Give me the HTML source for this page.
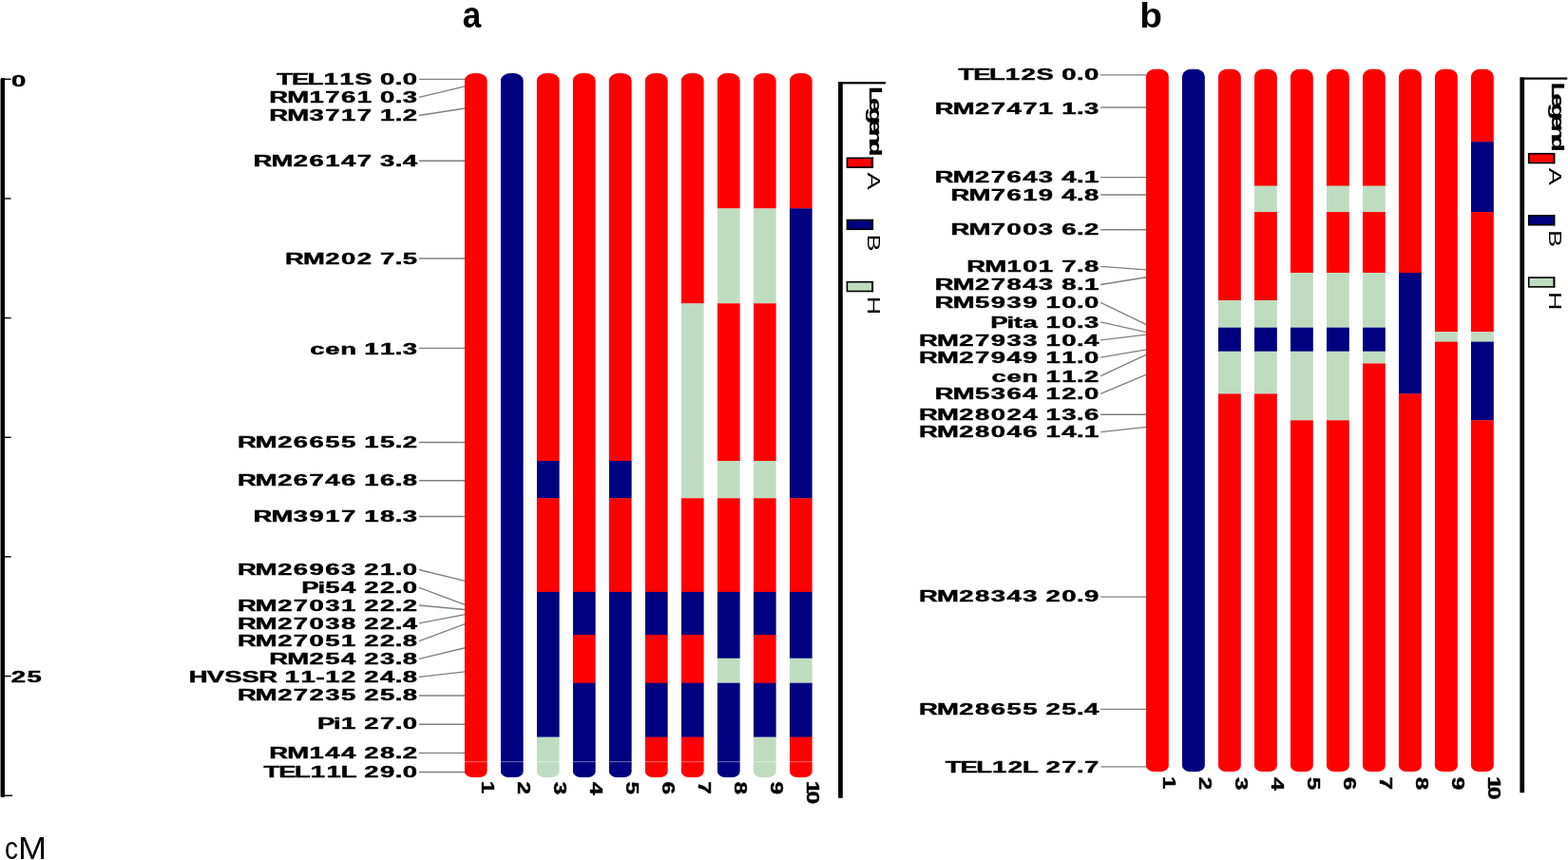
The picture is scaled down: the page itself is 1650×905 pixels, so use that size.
<!DOCTYPE html>
<html lang="en">
<head>
<meta charset="utf-8">
<title>Graphical genotypes</title>
<style>
html,body{margin:0;padding:0;background:#fff;}
body{width:1650px;height:905px;overflow:hidden;}
svg{display:block;}
text{font-family:"Liberation Sans",Arial,Helvetica,sans-serif;fill:#000;}
.lb{font-size:15.9px;font-weight:bold;stroke:#000;stroke-width:0.6;vector-effect:non-scaling-stroke;paint-order:stroke;}
.nm{font-weight:bold;stroke:#000;stroke-width:0.5;vector-effect:non-scaling-stroke;}
.lg{font-weight:bold;stroke:#000;stroke-width:0.35;vector-effect:non-scaling-stroke;}
.li{}
body{position:relative;}
.cm{position:absolute;left:0;top:873.3px;height:40px;line-height:40px;font-size:32.4px;font-family:"Liberation Sans",Arial,Helvetica,sans-serif;color:#000;white-space:nowrap;}
.cm span{position:absolute;top:0;display:block;transform-origin:0 0;}
.tt{font-size:40px;font-weight:bold;}
.ld{stroke:#808080;stroke-width:1.35;}
</style>
</head>
<body>
<svg width="1650" height="905" viewBox="0 0 1650 905">
<rect width="1650" height="905" fill="#fff"/>
<rect x="0.8" y="82" width="4.3" height="757" rx="1" fill="#000"/>
<rect x="0" y="83" width="1" height="755" fill="#888"/>
<rect x="3" y="82.6" width="8.6" height="1.4" fill="#000"/>
<rect x="3" y="208.25" width="8.6" height="1.4" fill="#000"/>
<rect x="3" y="333.9" width="8.6" height="1.4" fill="#000"/>
<rect x="3" y="459.55" width="8.6" height="1.4" fill="#000"/>
<rect x="3" y="585.2" width="8.6" height="1.4" fill="#000"/>
<rect x="3" y="710.85" width="8.6" height="1.4" fill="#000"/>
<rect x="3" y="836.5" width="10" height="1.4" fill="#000"/>
<text class="lb" transform="translate(0,90.75) scale(1.7296,1)" x="6.95">0</text>
<text class="lb" transform="translate(0,718.15) scale(1.7296,1)" x="6.85 16.51">25</text>
<text class="tt" style="font-size:39.4px" transform="translate(486.7,28.8) scale(0.89,1)">a</text>
<text class="tt" style="font-size:37.7px" transform="translate(1199.3,28.6) scale(1.03,1)">b</text>
<line x1="441" y1="83.3" x2="489.3" y2="83.3" class="ld"/>
<line x1="441" y1="102.3" x2="489.3" y2="90.84" class="ld"/>
<line x1="441" y1="121.5" x2="489.3" y2="114" class="ld"/>
<line x1="441" y1="169.2" x2="489.3" y2="169.2" class="ld"/>
<line x1="441" y1="272" x2="489.3" y2="272" class="ld"/>
<line x1="441" y1="366.3" x2="489.3" y2="366.3" class="ld"/>
<line x1="441" y1="465.5" x2="489.3" y2="465.5" class="ld"/>
<line x1="441" y1="505.73" x2="489.3" y2="505.73" class="ld"/>
<line x1="441" y1="543.45" x2="489.3" y2="543.45" class="ld"/>
<line x1="441" y1="599.5" x2="489.3" y2="611.34" class="ld"/>
<line x1="441" y1="618.3" x2="489.3" y2="636.49" class="ld"/>
<line x1="441" y1="637" x2="489.3" y2="641.52" class="ld"/>
<line x1="441" y1="655.9" x2="489.3" y2="646.54" class="ld"/>
<line x1="441" y1="674.6" x2="489.3" y2="656.6" class="ld"/>
<line x1="441" y1="693.4" x2="489.3" y2="681.75" class="ld"/>
<line x1="441" y1="712.3" x2="489.3" y2="706.89" class="ld"/>
<line x1="441" y1="732.04" x2="489.3" y2="732.04" class="ld"/>
<line x1="441" y1="762.21" x2="489.3" y2="762.21" class="ld"/>
<line x1="441" y1="792.38" x2="489.3" y2="792.38" class="ld"/>
<line x1="441" y1="812.5" x2="489.3" y2="812.5" class="ld"/>
<text class="lb" transform="translate(0,89.35) scale(1.7296,1)" x="168.38 177.48 187.18 196.89 206.55 215.81 226.42 231.23 240.36 245.05">TEL11S 0.0</text>
<text class="lb" transform="translate(0,108.15) scale(1.7296,1)" x="163.80 174.74 188.22 197.87 207.53 217.18 226.42 231.23 240.36 245.05">RM1761 0.3</text>
<text class="lb" transform="translate(0,127.35) scale(1.7296,1)" x="163.80 174.74 188.22 197.87 207.53 217.18 226.42 231.23 240.36 245.05">RM3717 1.2</text>
<text class="lb" transform="translate(0,174.95) scale(1.7296,1)" x="154.14 165.09 178.56 188.22 197.87 207.53 217.18 226.42 231.23 240.36 245.05">RM26147 3.4</text>
<text class="lb" transform="translate(0,277.85) scale(1.7296,1)" x="173.45 184.40 197.87 207.53 217.18 226.42 231.23 240.36 245.05">RM202 7.5</text>
<text class="lb" transform="translate(0,372.75) scale(1.7296,1)" x="188.62 197.90 207.12 216.77 221.58 231.23 240.36 245.05">cen 11.3</text>
<text class="lb" transform="translate(0,471.25) scale(1.7296,1)" x="144.49 155.43 168.91 178.56 188.22 197.87 207.53 216.77 221.58 231.23 240.36 245.05">RM26655 15.2</text>
<text class="lb" transform="translate(0,511.45) scale(1.7296,1)" x="144.49 155.43 168.91 178.56 188.22 197.87 207.53 216.77 221.58 231.23 240.36 245.05">RM26746 16.8</text>
<text class="lb" transform="translate(0,549.45) scale(1.7296,1)" x="154.14 165.09 178.56 188.22 197.87 207.53 216.77 221.58 231.23 240.36 245.05">RM3917 18.3</text>
<text class="lb" transform="translate(0,605.35) scale(1.7296,1)" x="144.49 155.43 168.91 178.56 188.22 197.87 207.53 216.77 221.58 231.23 240.36 245.05">RM26963 21.0</text>
<text class="lb" transform="translate(0,624.15) scale(1.7296,1)" x="183.43 193.35 197.87 207.53 216.77 221.58 231.23 240.36 245.05">Pi54 22.0</text>
<text class="lb" transform="translate(0,642.85) scale(1.7296,1)" x="144.49 155.43 168.91 178.56 188.22 197.87 207.53 216.77 221.58 231.23 240.36 245.05">RM27031 22.2</text>
<text class="lb" transform="translate(0,661.75) scale(1.7296,1)" x="144.49 155.43 168.91 178.56 188.22 197.87 207.53 216.77 221.58 231.23 240.36 245.05">RM27038 22.4</text>
<text class="lb" transform="translate(0,680.45) scale(1.7296,1)" x="144.49 155.43 168.91 178.56 188.22 197.87 207.53 216.77 221.58 231.23 240.36 245.05">RM27051 22.8</text>
<text class="lb" transform="translate(0,699.25) scale(1.7296,1)" x="163.80 174.74 188.22 197.87 207.53 216.77 221.58 231.23 240.36 245.05">RM254 23.8</text>
<text class="lb" transform="translate(0,718.15) scale(1.7296,1)" x="114.94 125.96 136.54 147.18 157.44 168.55 173.36 183.01 192.22 197.87 207.53 216.77 221.58 231.23 240.36 245.05">HVSSR 11-12 24.8</text>
<text class="lb" transform="translate(0,737.25) scale(1.7296,1)" x="144.49 155.43 168.91 178.56 188.22 197.87 207.53 216.77 221.58 231.23 240.36 245.05">RM27235 25.8</text>
<text class="lb" transform="translate(0,767.35) scale(1.7296,1)" x="193.09 203.01 207.53 216.77 221.58 231.23 240.36 245.05">Pi1 27.0</text>
<text class="lb" transform="translate(0,797.65) scale(1.7296,1)" x="163.80 174.74 188.22 197.87 207.53 216.77 221.58 231.23 240.36 245.05">RM144 28.2</text>
<text class="lb" transform="translate(0,818.25) scale(1.7296,1)" x="160.46 169.56 179.25 188.97 198.62 207.47 216.77 221.58 231.23 240.36 245.05">TEL11L 29.0</text>
<clipPath id="c488_0"><path d="M488.8 811.4 V84.9 A11 8 0 0 1 499.8 76.9 H501.8 A11 8 0 0 1 512.8 84.9 V811.4 A8 6.5 0 0 1 504.8 817.9 H496.8 A8 6.5 0 0 1 488.8 811.4Z"/></clipPath>
<g clip-path="url(#c488_0)">
<rect x="488.8" y="76.9" width="24" height="741.3" fill="#ff0000"/>
<rect x="488.8" y="801.1" width="24" height="1" fill="#fff" opacity="0.42"/>
</g>
<text class="nm" style="font-size:19px" transform="translate(506.7,823.3) rotate(90) scale(1.28,1)" x="-1.20">1</text>
<clipPath id="c488_1"><path d="M526.8 811.4 V84.9 A11 8 0 0 1 537.8 76.9 H539.8 A11 8 0 0 1 550.8 84.9 V811.4 A8 6.5 0 0 1 542.8 817.9 H534.8 A8 6.5 0 0 1 526.8 811.4Z"/></clipPath>
<g clip-path="url(#c488_1)">
<rect x="526.8" y="76.9" width="24" height="741.3" fill="#000080"/>
<rect x="526.8" y="801.1" width="24" height="1" fill="#fff" opacity="0.42"/>
</g>
<text class="nm" style="font-size:19px" transform="translate(544.7,823.3) rotate(90) scale(1.28,1)" x="-0.66">2</text>
<clipPath id="c488_2"><path d="M564.8 811.4 V84.9 A11 8 0 0 1 575.8 76.9 H577.8 A11 8 0 0 1 588.8 84.9 V811.4 A8 6.5 0 0 1 580.8 817.9 H572.8 A8 6.5 0 0 1 564.8 811.4Z"/></clipPath>
<g clip-path="url(#c488_2)">
<rect x="564.8" y="76.9" width="24" height="408.4" fill="#ff0000"/>
<rect x="564.8" y="485" width="24" height="39.6" fill="#000080"/>
<rect x="564.8" y="524.3" width="24" height="98.9" fill="#ff0000"/>
<rect x="564.8" y="622.9" width="24" height="153" fill="#000080"/>
<rect x="564.8" y="775.6" width="24" height="42.6" fill="#c0dcc0"/>
<rect x="564.8" y="801.1" width="24" height="1" fill="#fff" opacity="0.42"/>
</g>
<text class="nm" style="font-size:19px" transform="translate(582.7,823.3) rotate(90) scale(1.28,1)" x="-0.44">3</text>
<clipPath id="c488_3"><path d="M602.8 811.4 V84.9 A11 8 0 0 1 613.8 76.9 H615.8 A11 8 0 0 1 626.8 84.9 V811.4 A8 6.5 0 0 1 618.8 817.9 H610.8 A8 6.5 0 0 1 602.8 811.4Z"/></clipPath>
<g clip-path="url(#c488_3)">
<rect x="602.8" y="76.9" width="24" height="546.3" fill="#ff0000"/>
<rect x="602.8" y="622.9" width="24" height="45.4" fill="#000080"/>
<rect x="602.8" y="668" width="24" height="51" fill="#ff0000"/>
<rect x="602.8" y="718.7" width="24" height="99.5" fill="#000080"/>
<rect x="602.8" y="801.1" width="24" height="1" fill="#fff" opacity="0.42"/>
</g>
<text class="nm" style="font-size:19px" transform="translate(620.7,823.3) rotate(90) scale(1.28,1)" x="-0.29">4</text>
<clipPath id="c488_4"><path d="M640.8 811.4 V84.9 A11 8 0 0 1 651.8 76.9 H653.8 A11 8 0 0 1 664.8 84.9 V811.4 A8 6.5 0 0 1 656.8 817.9 H648.8 A8 6.5 0 0 1 640.8 811.4Z"/></clipPath>
<g clip-path="url(#c488_4)">
<rect x="640.8" y="76.9" width="24" height="408.4" fill="#ff0000"/>
<rect x="640.8" y="485" width="24" height="39.6" fill="#000080"/>
<rect x="640.8" y="524.3" width="24" height="98.9" fill="#ff0000"/>
<rect x="640.8" y="622.9" width="24" height="195.3" fill="#000080"/>
<rect x="640.8" y="801.1" width="24" height="1" fill="#fff" opacity="0.42"/>
</g>
<text class="nm" style="font-size:19px" transform="translate(658.7,823.3) rotate(90) scale(1.28,1)" x="-0.58">5</text>
<clipPath id="c488_5"><path d="M678.8 811.4 V84.9 A11 8 0 0 1 689.8 76.9 H691.8 A11 8 0 0 1 702.8 84.9 V811.4 A8 6.5 0 0 1 694.8 817.9 H686.8 A8 6.5 0 0 1 678.8 811.4Z"/></clipPath>
<g clip-path="url(#c488_5)">
<rect x="678.8" y="76.9" width="24" height="546.3" fill="#ff0000"/>
<rect x="678.8" y="622.9" width="24" height="45.4" fill="#000080"/>
<rect x="678.8" y="668" width="24" height="51" fill="#ff0000"/>
<rect x="678.8" y="718.7" width="24" height="57.2" fill="#000080"/>
<rect x="678.8" y="775.6" width="24" height="42.6" fill="#ff0000"/>
<rect x="678.8" y="801.1" width="24" height="1" fill="#fff" opacity="0.42"/>
</g>
<text class="nm" style="font-size:19px" transform="translate(696.7,823.3) rotate(90) scale(1.28,1)" x="-0.70">6</text>
<clipPath id="c488_6"><path d="M716.8 811.4 V84.9 A11 8 0 0 1 727.8 76.9 H729.8 A11 8 0 0 1 740.8 84.9 V811.4 A8 6.5 0 0 1 732.8 817.9 H724.8 A8 6.5 0 0 1 716.8 811.4Z"/></clipPath>
<g clip-path="url(#c488_6)">
<rect x="716.8" y="76.9" width="24" height="242.7" fill="#ff0000"/>
<rect x="716.8" y="319.3" width="24" height="205.3" fill="#c0dcc0"/>
<rect x="716.8" y="524.3" width="24" height="98.9" fill="#ff0000"/>
<rect x="716.8" y="622.9" width="24" height="45.4" fill="#000080"/>
<rect x="716.8" y="668" width="24" height="51" fill="#ff0000"/>
<rect x="716.8" y="718.7" width="24" height="57.2" fill="#000080"/>
<rect x="716.8" y="775.6" width="24" height="42.6" fill="#ff0000"/>
<rect x="716.8" y="801.1" width="24" height="1" fill="#fff" opacity="0.42"/>
</g>
<text class="nm" style="font-size:19px" transform="translate(734.7,823.3) rotate(90) scale(1.28,1)" x="-0.82">7</text>
<clipPath id="c488_7"><path d="M754.8 811.4 V84.9 A11 8 0 0 1 765.8 76.9 H767.8 A11 8 0 0 1 778.8 84.9 V811.4 A8 6.5 0 0 1 770.8 817.9 H762.8 A8 6.5 0 0 1 754.8 811.4Z"/></clipPath>
<g clip-path="url(#c488_7)">
<rect x="754.8" y="76.9" width="24" height="142.7" fill="#ff0000"/>
<rect x="754.8" y="219.3" width="24" height="100.3" fill="#c0dcc0"/>
<rect x="754.8" y="319.3" width="24" height="166" fill="#ff0000"/>
<rect x="754.8" y="485" width="24" height="39.6" fill="#c0dcc0"/>
<rect x="754.8" y="524.3" width="24" height="98.9" fill="#ff0000"/>
<rect x="754.8" y="622.9" width="24" height="70.1" fill="#000080"/>
<rect x="754.8" y="692.7" width="24" height="26.3" fill="#c0dcc0"/>
<rect x="754.8" y="718.7" width="24" height="99.5" fill="#000080"/>
<rect x="754.8" y="801.1" width="24" height="1" fill="#fff" opacity="0.42"/>
</g>
<text class="nm" style="font-size:19px" transform="translate(772.7,823.3) rotate(90) scale(1.28,1)" x="-0.60">8</text>
<clipPath id="c488_8"><path d="M792.8 811.4 V84.9 A11 8 0 0 1 803.8 76.9 H805.8 A11 8 0 0 1 816.8 84.9 V811.4 A8 6.5 0 0 1 808.8 817.9 H800.8 A8 6.5 0 0 1 792.8 811.4Z"/></clipPath>
<g clip-path="url(#c488_8)">
<rect x="792.8" y="76.9" width="24" height="142.7" fill="#ff0000"/>
<rect x="792.8" y="219.3" width="24" height="100.3" fill="#c0dcc0"/>
<rect x="792.8" y="319.3" width="24" height="166" fill="#ff0000"/>
<rect x="792.8" y="485" width="24" height="39.6" fill="#c0dcc0"/>
<rect x="792.8" y="524.3" width="24" height="98.9" fill="#ff0000"/>
<rect x="792.8" y="622.9" width="24" height="45.4" fill="#000080"/>
<rect x="792.8" y="668" width="24" height="51" fill="#ff0000"/>
<rect x="792.8" y="718.7" width="24" height="57.2" fill="#000080"/>
<rect x="792.8" y="775.6" width="24" height="42.6" fill="#c0dcc0"/>
<rect x="792.8" y="801.1" width="24" height="1" fill="#fff" opacity="0.42"/>
</g>
<text class="nm" style="font-size:19px" transform="translate(810.7,823.3) rotate(90) scale(1.28,1)" x="-0.66">9</text>
<clipPath id="c488_9"><path d="M830.8 811.4 V84.9 A11 8 0 0 1 841.8 76.9 H843.8 A11 8 0 0 1 854.8 84.9 V811.4 A8 6.5 0 0 1 846.8 817.9 H838.8 A8 6.5 0 0 1 830.8 811.4Z"/></clipPath>
<g clip-path="url(#c488_9)">
<rect x="830.8" y="76.9" width="24" height="142.7" fill="#ff0000"/>
<rect x="830.8" y="219.3" width="24" height="305.3" fill="#000080"/>
<rect x="830.8" y="524.3" width="24" height="98.9" fill="#ff0000"/>
<rect x="830.8" y="622.9" width="24" height="70.1" fill="#000080"/>
<rect x="830.8" y="692.7" width="24" height="26.3" fill="#c0dcc0"/>
<rect x="830.8" y="718.7" width="24" height="57.2" fill="#000080"/>
<rect x="830.8" y="775.6" width="24" height="42.6" fill="#ff0000"/>
<rect x="830.8" y="801.1" width="24" height="1" fill="#fff" opacity="0.42"/>
</g>
<text class="nm" style="font-size:19px" transform="translate(848.7,823.3) rotate(90) scale(1.3,1)" x="-1.20 7.09">10</text>
<rect x="882.1" y="86.2" width="4.7" height="753.6" fill="#000"/>
<rect x="882.5" y="86.2" width="49.5" height="2.2" fill="#000"/>
<text class="lg" style="font-size:18.7px" transform="translate(915.3,92.9) rotate(90) scale(1.5,1)" x="-1.25 6.68 13.59 21.52 28.43 36.20">Legend</text>
<rect x="891.4" y="166.3" width="26.6" height="9.8" fill="#ff0000" stroke="#000" stroke-width="1.6"/>
<rect x="917.5" y="165.55" width="1.6" height="11.3" fill="#000"/>
<text class="li" style="font-size:18.7px" transform="translate(913.1,181.5) rotate(90) scale(1.45,1)" x="-0.04">A</text>
<rect x="891.4" y="231.5" width="26.6" height="9.8" fill="#000080" stroke="#000" stroke-width="1.6"/>
<rect x="917.5" y="230.75" width="1.6" height="11.3" fill="#000"/>
<text class="li" style="font-size:18.7px" transform="translate(913.1,248.7) rotate(90) scale(1.45,1)" x="-1.53">B</text>
<rect x="891.4" y="296.7" width="26.6" height="9.8" fill="#c0dcc0" stroke="#000" stroke-width="1.6"/>
<rect x="917.5" y="295.95" width="1.6" height="11.3" fill="#000"/>
<text class="li" style="font-size:18.7px" transform="translate(913.1,313.9) rotate(90) scale(1.45,1)" x="-1.53">H</text>
<line x1="1158.2" y1="78.8" x2="1206.4" y2="78.8" class="ld"/>
<line x1="1158.2" y1="112.97" x2="1206.4" y2="112.97" class="ld"/>
<line x1="1158.2" y1="186.57" x2="1206.4" y2="186.57" class="ld"/>
<line x1="1158.2" y1="204.97" x2="1206.4" y2="204.97" class="ld"/>
<line x1="1158.2" y1="241.77" x2="1206.4" y2="241.77" class="ld"/>
<line x1="1158.2" y1="280.4" x2="1206.4" y2="283.82" class="ld"/>
<line x1="1158.2" y1="299.5" x2="1206.4" y2="291.71" class="ld"/>
<line x1="1158.2" y1="318.3" x2="1206.4" y2="341.65" class="ld"/>
<line x1="1158.2" y1="338.8" x2="1206.4" y2="349.54" class="ld"/>
<line x1="1158.2" y1="357.8" x2="1206.4" y2="352.17" class="ld"/>
<line x1="1158.2" y1="376.2" x2="1206.4" y2="367.94" class="ld"/>
<line x1="1158.2" y1="395.7" x2="1206.4" y2="373.19" class="ld"/>
<line x1="1158.2" y1="414.3" x2="1206.4" y2="394.22" class="ld"/>
<line x1="1158.2" y1="436.28" x2="1206.4" y2="436.28" class="ld"/>
<line x1="1158.2" y1="454.6" x2="1206.4" y2="449.42" class="ld"/>
<line x1="1158.2" y1="628.16" x2="1206.4" y2="628.16" class="ld"/>
<line x1="1158.2" y1="746.44" x2="1206.4" y2="746.44" class="ld"/>
<line x1="1158.2" y1="806.9" x2="1206.4" y2="806.9" class="ld"/>
<text class="lb" transform="translate(0,84.25) scale(1.7296,1)" x="583.06 592.15 601.85 611.56 621.22 630.48 641.09 645.91 655.03 659.72">TEL12S 0.0</text>
<text class="lb" transform="translate(0,119.85) scale(1.7296,1)" x="568.82 579.76 593.23 602.89 612.54 622.20 631.86 641.09 645.91 655.03 659.72">RM27471 1.3</text>
<text class="lb" transform="translate(0,191.95) scale(1.7296,1)" x="568.82 579.76 593.23 602.89 612.54 622.20 631.86 641.09 645.91 655.03 659.72">RM27643 4.1</text>
<text class="lb" transform="translate(0,210.85) scale(1.7296,1)" x="578.47 589.41 602.89 612.54 622.20 631.86 641.09 645.91 655.03 659.72">RM7619 4.8</text>
<text class="lb" transform="translate(0,247.15) scale(1.7296,1)" x="578.47 589.41 602.89 612.54 622.20 631.86 641.09 645.91 655.03 659.72">RM7003 6.2</text>
<text class="lb" transform="translate(0,286.25) scale(1.7296,1)" x="588.13 599.07 612.54 622.20 631.86 641.09 645.91 655.03 659.72">RM101 7.8</text>
<text class="lb" transform="translate(0,305.35) scale(1.7296,1)" x="568.82 579.76 593.23 602.89 612.54 622.20 631.86 641.09 645.91 655.03 659.72">RM27843 8.1</text>
<text class="lb" transform="translate(0,324.15) scale(1.7296,1)" x="568.82 579.76 593.23 602.89 612.54 622.20 631.44 636.25 645.91 655.03 659.72">RM5939 10.0</text>
<text class="lb" transform="translate(0,344.65) scale(1.7296,1)" x="602.67 612.59 616.81 622.40 631.44 636.25 645.91 655.03 659.72">Pita 10.3</text>
<text class="lb" transform="translate(0,363.65) scale(1.7296,1)" x="559.16 570.10 583.58 593.23 602.89 612.54 622.20 631.44 636.25 645.91 655.03 659.72">RM27933 10.4</text>
<text class="lb" transform="translate(0,382.05) scale(1.7296,1)" x="559.16 570.10 583.58 593.23 602.89 612.54 622.20 631.44 636.25 645.91 655.03 659.72">RM27949 11.0</text>
<text class="lb" transform="translate(0,401.55) scale(1.7296,1)" x="603.29 612.57 621.79 631.44 636.25 645.91 655.03 659.72">cen 11.2</text>
<text class="lb" transform="translate(0,420.15) scale(1.7296,1)" x="568.82 579.76 593.23 602.89 612.54 622.20 631.44 636.25 645.91 655.03 659.72">RM5364 12.0</text>
<text class="lb" transform="translate(0,441.65) scale(1.7296,1)" x="559.16 570.10 583.58 593.23 602.89 612.54 622.20 631.44 636.25 645.91 655.03 659.72">RM28024 13.6</text>
<text class="lb" transform="translate(0,460.45) scale(1.7296,1)" x="559.16 570.10 583.58 593.23 602.89 612.54 622.20 631.44 636.25 645.91 655.03 659.72">RM28046 14.1</text>
<text class="lb" transform="translate(0,633.35) scale(1.7296,1)" x="559.16 570.10 583.58 593.23 602.89 612.54 622.20 631.44 636.25 645.91 655.03 659.72">RM28343 20.9</text>
<text class="lb" transform="translate(0,752.15) scale(1.7296,1)" x="559.16 570.10 583.58 593.23 602.89 612.54 622.20 631.44 636.25 645.91 655.03 659.72">RM28655 25.4</text>
<text class="lb" transform="translate(0,812.85) scale(1.7296,1)" x="575.14 584.23 593.93 603.64 613.30 622.14 631.44 636.25 645.91 655.03 659.72">TEL12L 27.7</text>
<clipPath id="c1205_0"><path d="M1205.9 805.5 V80.4 A11 8 0 0 1 1216.9 72.4 H1218.9 A11 8 0 0 1 1229.9 80.4 V805.5 A8 6.5 0 0 1 1221.9 812 H1213.9 A8 6.5 0 0 1 1205.9 805.5Z"/></clipPath>
<g clip-path="url(#c1205_0)">
<rect x="1205.9" y="72.4" width="24" height="739.9" fill="#ff0000"/>
</g>
<text class="nm" style="font-size:19px" transform="translate(1223.8,818.6) rotate(90) scale(1.28,1)" x="-1.20">1</text>
<clipPath id="c1205_1"><path d="M1243.9 805.5 V80.4 A11 8 0 0 1 1254.9 72.4 H1256.9 A11 8 0 0 1 1267.9 80.4 V805.5 A8 6.5 0 0 1 1259.9 812 H1251.9 A8 6.5 0 0 1 1243.9 805.5Z"/></clipPath>
<g clip-path="url(#c1205_1)">
<rect x="1243.9" y="72.4" width="24" height="739.9" fill="#000080"/>
</g>
<text class="nm" style="font-size:19px" transform="translate(1261.8,818.6) rotate(90) scale(1.28,1)" x="-0.66">2</text>
<clipPath id="c1205_2"><path d="M1281.9 805.5 V80.4 A11 8 0 0 1 1292.9 72.4 H1294.9 A11 8 0 0 1 1305.9 80.4 V805.5 A8 6.5 0 0 1 1297.9 812 H1289.9 A8 6.5 0 0 1 1281.9 805.5Z"/></clipPath>
<g clip-path="url(#c1205_2)">
<rect x="1281.9" y="72.4" width="24" height="243.9" fill="#ff0000"/>
<rect x="1281.9" y="316" width="24" height="29" fill="#c0dcc0"/>
<rect x="1281.9" y="344.7" width="24" height="25.3" fill="#000080"/>
<rect x="1281.9" y="369.7" width="24" height="45" fill="#c0dcc0"/>
<rect x="1281.9" y="414.4" width="24" height="397.9" fill="#ff0000"/>
</g>
<text class="nm" style="font-size:19px" transform="translate(1299.8,818.6) rotate(90) scale(1.28,1)" x="-0.44">3</text>
<clipPath id="c1205_3"><path d="M1319.9 805.5 V80.4 A11 8 0 0 1 1330.9 72.4 H1332.9 A11 8 0 0 1 1343.9 80.4 V805.5 A8 6.5 0 0 1 1335.9 812 H1327.9 A8 6.5 0 0 1 1319.9 805.5Z"/></clipPath>
<g clip-path="url(#c1205_3)">
<rect x="1319.9" y="72.4" width="24" height="123.5" fill="#ff0000"/>
<rect x="1319.9" y="195.6" width="24" height="27.8" fill="#c0dcc0"/>
<rect x="1319.9" y="223.1" width="24" height="93.2" fill="#ff0000"/>
<rect x="1319.9" y="316" width="24" height="29" fill="#c0dcc0"/>
<rect x="1319.9" y="344.7" width="24" height="25.3" fill="#000080"/>
<rect x="1319.9" y="369.7" width="24" height="45" fill="#c0dcc0"/>
<rect x="1319.9" y="414.4" width="24" height="397.9" fill="#ff0000"/>
</g>
<text class="nm" style="font-size:19px" transform="translate(1337.8,818.6) rotate(90) scale(1.28,1)" x="-0.29">4</text>
<clipPath id="c1205_4"><path d="M1357.9 805.5 V80.4 A11 8 0 0 1 1368.9 72.4 H1370.9 A11 8 0 0 1 1381.9 80.4 V805.5 A8 6.5 0 0 1 1373.9 812 H1365.9 A8 6.5 0 0 1 1357.9 805.5Z"/></clipPath>
<g clip-path="url(#c1205_4)">
<rect x="1357.9" y="72.4" width="24" height="214.9" fill="#ff0000"/>
<rect x="1357.9" y="287" width="24" height="58" fill="#c0dcc0"/>
<rect x="1357.9" y="344.7" width="24" height="25.3" fill="#000080"/>
<rect x="1357.9" y="369.7" width="24" height="72.9" fill="#c0dcc0"/>
<rect x="1357.9" y="442.3" width="24" height="370" fill="#ff0000"/>
</g>
<text class="nm" style="font-size:19px" transform="translate(1375.8,818.6) rotate(90) scale(1.28,1)" x="-0.58">5</text>
<clipPath id="c1205_5"><path d="M1395.9 805.5 V80.4 A11 8 0 0 1 1406.9 72.4 H1408.9 A11 8 0 0 1 1419.9 80.4 V805.5 A8 6.5 0 0 1 1411.9 812 H1403.9 A8 6.5 0 0 1 1395.9 805.5Z"/></clipPath>
<g clip-path="url(#c1205_5)">
<rect x="1395.9" y="72.4" width="24" height="123.5" fill="#ff0000"/>
<rect x="1395.9" y="195.6" width="24" height="27.8" fill="#c0dcc0"/>
<rect x="1395.9" y="223.1" width="24" height="64.2" fill="#ff0000"/>
<rect x="1395.9" y="287" width="24" height="58" fill="#c0dcc0"/>
<rect x="1395.9" y="344.7" width="24" height="25.3" fill="#000080"/>
<rect x="1395.9" y="369.7" width="24" height="72.9" fill="#c0dcc0"/>
<rect x="1395.9" y="442.3" width="24" height="370" fill="#ff0000"/>
</g>
<text class="nm" style="font-size:19px" transform="translate(1413.8,818.6) rotate(90) scale(1.28,1)" x="-0.70">6</text>
<clipPath id="c1205_6"><path d="M1433.9 805.5 V80.4 A11 8 0 0 1 1444.9 72.4 H1446.9 A11 8 0 0 1 1457.9 80.4 V805.5 A8 6.5 0 0 1 1449.9 812 H1441.9 A8 6.5 0 0 1 1433.9 805.5Z"/></clipPath>
<g clip-path="url(#c1205_6)">
<rect x="1433.9" y="72.4" width="24" height="123.5" fill="#ff0000"/>
<rect x="1433.9" y="195.6" width="24" height="27.8" fill="#c0dcc0"/>
<rect x="1433.9" y="223.1" width="24" height="64.2" fill="#ff0000"/>
<rect x="1433.9" y="287" width="24" height="58" fill="#c0dcc0"/>
<rect x="1433.9" y="344.7" width="24" height="25.3" fill="#000080"/>
<rect x="1433.9" y="369.7" width="24" height="13.1" fill="#c0dcc0"/>
<rect x="1433.9" y="382.5" width="24" height="429.8" fill="#ff0000"/>
</g>
<text class="nm" style="font-size:19px" transform="translate(1451.8,818.6) rotate(90) scale(1.28,1)" x="-0.82">7</text>
<clipPath id="c1205_7"><path d="M1471.9 805.5 V80.4 A11 8 0 0 1 1482.9 72.4 H1484.9 A11 8 0 0 1 1495.9 80.4 V805.5 A8 6.5 0 0 1 1487.9 812 H1479.9 A8 6.5 0 0 1 1471.9 805.5Z"/></clipPath>
<g clip-path="url(#c1205_7)">
<rect x="1471.9" y="72.4" width="24" height="214.9" fill="#ff0000"/>
<rect x="1471.9" y="287" width="24" height="127.7" fill="#000080"/>
<rect x="1471.9" y="414.4" width="24" height="397.9" fill="#ff0000"/>
</g>
<text class="nm" style="font-size:19px" transform="translate(1489.8,818.6) rotate(90) scale(1.28,1)" x="-0.60">8</text>
<clipPath id="c1205_8"><path d="M1509.9 805.5 V80.4 A11 8 0 0 1 1520.9 72.4 H1522.9 A11 8 0 0 1 1533.9 80.4 V805.5 A8 6.5 0 0 1 1525.9 812 H1517.9 A8 6.5 0 0 1 1509.9 805.5Z"/></clipPath>
<g clip-path="url(#c1205_8)">
<rect x="1509.9" y="72.4" width="24" height="277" fill="#ff0000"/>
<rect x="1509.9" y="349.1" width="24" height="10.8" fill="#c0dcc0"/>
<rect x="1509.9" y="359.6" width="24" height="452.7" fill="#ff0000"/>
</g>
<text class="nm" style="font-size:19px" transform="translate(1527.8,818.6) rotate(90) scale(1.28,1)" x="-0.66">9</text>
<clipPath id="c1205_9"><path d="M1547.9 805.5 V80.4 A11 8 0 0 1 1558.9 72.4 H1560.9 A11 8 0 0 1 1571.9 80.4 V805.5 A8 6.5 0 0 1 1563.9 812 H1555.9 A8 6.5 0 0 1 1547.9 805.5Z"/></clipPath>
<g clip-path="url(#c1205_9)">
<rect x="1547.9" y="72.4" width="24" height="77.1" fill="#ff0000"/>
<rect x="1547.9" y="149.2" width="24" height="74.2" fill="#000080"/>
<rect x="1547.9" y="223.1" width="24" height="126.3" fill="#ff0000"/>
<rect x="1547.9" y="349.1" width="24" height="10.8" fill="#c0dcc0"/>
<rect x="1547.9" y="359.6" width="24" height="83" fill="#000080"/>
<rect x="1547.9" y="442.3" width="24" height="370" fill="#ff0000"/>
</g>
<text class="nm" style="font-size:19px" transform="translate(1565.8,818.6) rotate(90) scale(1.3,1)" x="-1.20 7.09">10</text>
<rect x="1599.4" y="81.5" width="4.7" height="752.7" fill="#000"/>
<rect x="1599.8" y="81.5" width="49.5" height="2.2" fill="#000"/>
<text class="lg" style="font-size:18.7px" transform="translate(1632.6,88.3) rotate(90) scale(1.5,1)" x="-1.25 6.68 13.59 21.52 28.43 36.20">Legend</text>
<rect x="1608.7" y="161.7" width="26.6" height="9.8" fill="#ff0000" stroke="#000" stroke-width="1.6"/>
<rect x="1634.8" y="160.95" width="1.6" height="11.3" fill="#000"/>
<text class="li" style="font-size:18.7px" transform="translate(1630.4,176.9) rotate(90) scale(1.45,1)" x="-0.04">A</text>
<rect x="1608.7" y="226.9" width="26.6" height="9.8" fill="#000080" stroke="#000" stroke-width="1.6"/>
<rect x="1634.8" y="226.15" width="1.6" height="11.3" fill="#000"/>
<text class="li" style="font-size:18.7px" transform="translate(1630.4,244.1) rotate(90) scale(1.45,1)" x="-1.53">B</text>
<rect x="1608.7" y="292.1" width="26.6" height="9.8" fill="#c0dcc0" stroke="#000" stroke-width="1.6"/>
<rect x="1634.8" y="291.35" width="1.6" height="11.3" fill="#000"/>
<text class="li" style="font-size:18.7px" transform="translate(1630.4,309.3) rotate(90) scale(1.45,1)" x="-1.53">H</text>
</svg>
<div class="cm"><span style="left:4.63px;transform:scaleX(0.86)">c</span><span style="left:19.24px;transform:scaleX(1.115)">M</span></div>
</body>
</html>
